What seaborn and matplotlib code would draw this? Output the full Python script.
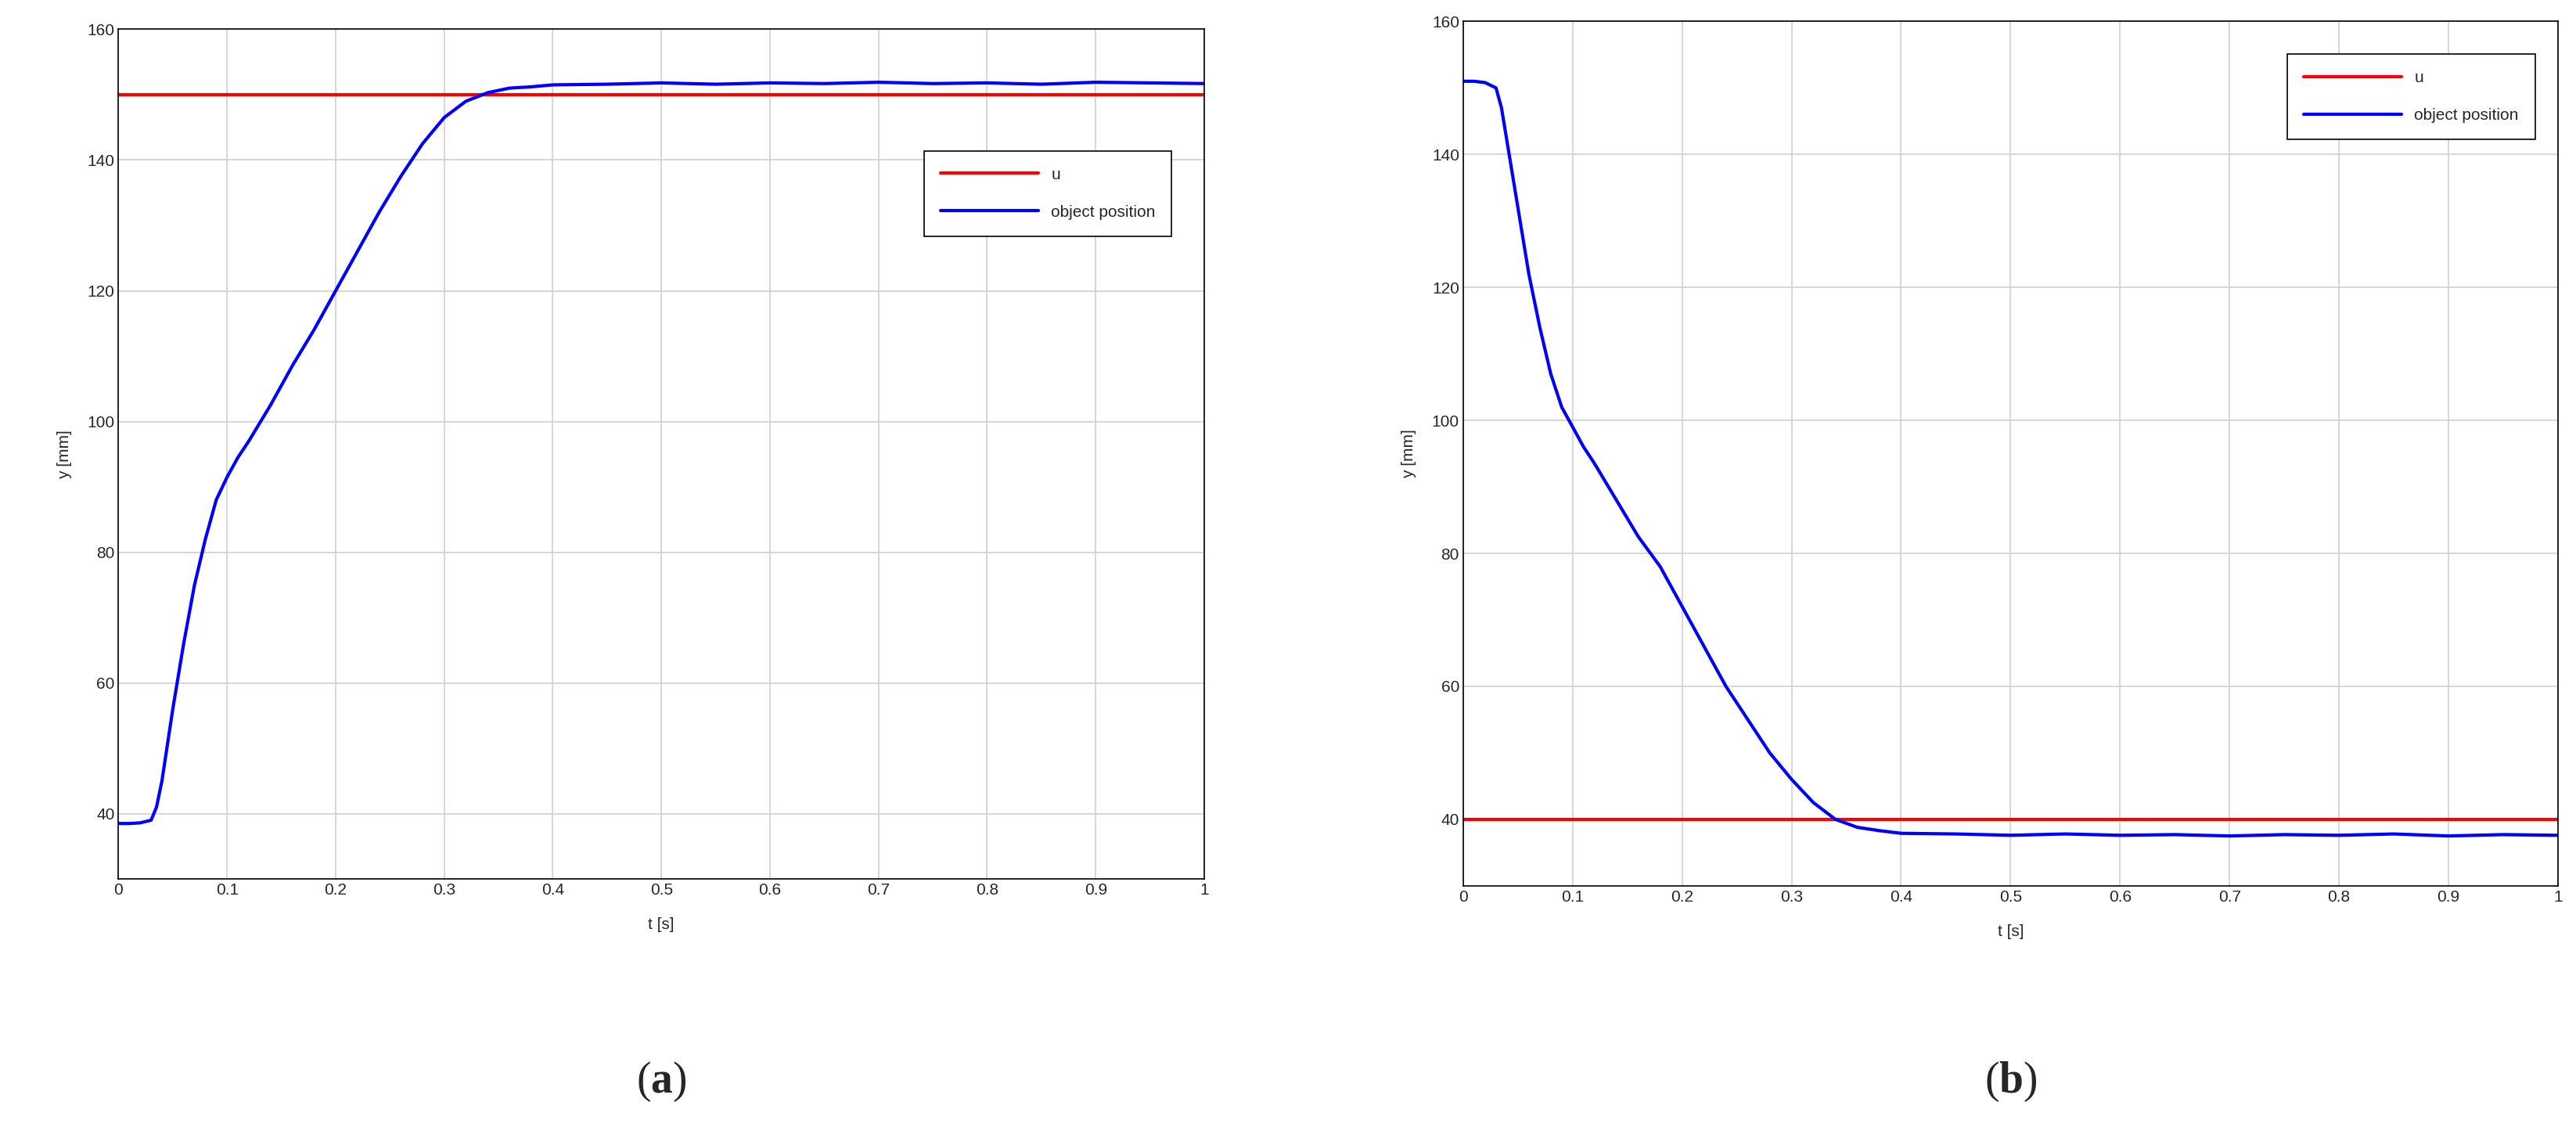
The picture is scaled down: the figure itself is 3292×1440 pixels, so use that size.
import matplotlib
matplotlib.use("Agg")
import matplotlib.pyplot as plt
import seaborn as sns
import pandas as pd

t_a = [0, 0.01, 0.02, 0.03, 0.035, 0.04, 0.05, 0.06, 0.07, 0.08, 0.09, 0.1, 0.11, 0.12, 0.14, 0.16, 0.18, 0.2, 0.22, 0.24, 0.26, 0.28, 0.3, 0.32, 0.34, 0.36, 0.38, 0.4, 0.45, 0.5, 0.55, 0.6, 0.65, 0.7, 0.75, 0.8, 0.85, 0.9, 0.95, 1.0]
y_a = [38.5, 38.5, 38.6, 39.0, 41, 45, 56, 66, 75, 82, 88, 91.5, 94.5, 97, 102.5, 108.5, 114, 120, 126, 132, 137.5, 142.5, 146.5, 149, 150.3, 151, 151.2, 151.5, 151.6, 151.8, 151.6, 151.8, 151.7, 151.9, 151.7, 151.8, 151.6, 151.9, 151.8, 151.7]
u_a = 150

t_b = [0, 0.01, 0.02, 0.03, 0.035, 0.04, 0.05, 0.06, 0.07, 0.08, 0.09, 0.1, 0.11, 0.12, 0.14, 0.16, 0.18, 0.2, 0.22, 0.24, 0.26, 0.28, 0.3, 0.32, 0.34, 0.36, 0.38, 0.4, 0.45, 0.5, 0.55, 0.6, 0.65, 0.7, 0.75, 0.8, 0.85, 0.9, 0.95, 1.0]
y_b = [151, 151, 150.8, 150, 147, 142, 132, 122, 114, 107, 102, 99, 96, 93.5, 88, 82.5, 78, 72, 66, 60, 55, 50, 46, 42.5, 40, 38.8, 38.3, 37.9, 37.8, 37.6, 37.8, 37.6, 37.7, 37.5, 37.7, 37.6, 37.8, 37.5, 37.7, 37.6]
u_b = 40

xticks = [0, 0.1, 0.2, 0.3, 0.4, 0.5, 0.6, 0.7, 0.8, 0.9, 1]
xtick_labels = ["0", "0.1", "0.2", "0.3", "0.4", "0.5", "0.6", "0.7", "0.8", "0.9", "1"]
yticks = [40, 60, 80, 100, 120, 140, 160]
captions = ["a", "b"]

sns.set_style("white")
plt.rcParams['font.family'] = ['Liberation Sans', 'DejaVu Sans']
plt.rcParams['mathtext.fontset'] = 'custom'
plt.rcParams['mathtext.rm'] = 'Liberation Serif'
plt.rcParams['mathtext.bf'] = 'Liberation Serif:bold'
fig = plt.figure(figsize=(32.92, 14.4), dpi=100)
axes = [fig.add_axes([0.046, 0.22, 0.4215, 0.754]),
        fig.add_axes([0.568, 0.214, 0.425, 0.767])]
legend_pos = [(0.97, 0.857), (0.979, 0.962)]
for ax, t, y, u, cap, lp in zip(axes, [t_a, t_b], [y_a, y_b], [u_a, u_b], captions, legend_pos):
    df = pd.DataFrame({"t": t, "y": y})
    ax.axhline(u, color="red", lw=3, label="u")
    sns.lineplot(data=df, x="t", y="y", ax=ax, color="blue", lw=3, label="object position")
    ax.set_xlim(0, 1)
    ax.set_ylim(30, 160)
    ax.set_xticks(xticks)
    ax.set_xticklabels(xtick_labels)
    ax.set_yticks(yticks)
    ax.grid(True, color="#d0d0d0", lw=1.2)
    ax.tick_params(labelsize=15, direction="in", length=6)
    for s in ax.spines.values():
        s.set_color("black"); s.set_linewidth(1.2)
    ax.set_xlabel("t [s]", fontsize=15, labelpad=18)
    ax.set_ylabel("y [mm]", fontsize=15, labelpad=14)
    leg = ax.legend(loc="upper right", bbox_to_anchor=lp, fontsize=15,
                    fancybox=False, edgecolor="black", framealpha=1, handlelength=6,
                    borderpad=1.0, labelspacing=1.4, borderaxespad=0)
    leg.get_frame().set_linewidth(1.2)
    bb = ax.get_position()
    fig.text((bb.x0 + bb.x1) / 2, 0.04, r"$\mathrm{(}\mathbf{" + cap + r"}\mathrm{)}$",
             fontsize=40, ha="center", va="center")

fig.savefig("out.png", dpi=100)
